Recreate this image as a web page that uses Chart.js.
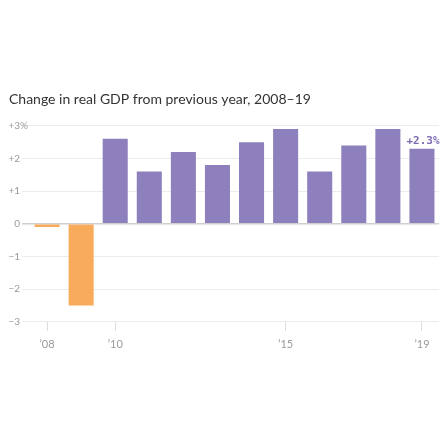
<!DOCTYPE html>
<html>
<head>
<meta charset="utf-8">
<script src="https://cdn.jsdelivr.net/npm/chart.js@4.4.1/dist/chart.umd.min.js"></script>
<style>
  html, body { margin: 0; padding: 0; background: #fff; }
  #wrap { width: 446px; height: 446px; }
</style>
</head>
<body>
<div id="wrap"><canvas id="gdp-chart" width="446" height="446"></canvas></div>
<script>
// Real GDP change, percent from previous year
const years = ["2008", "2009", "2010", "2011", "2012", "2013", "2014", "2015", "2016", "2017", "2018", "2019"];
const gdpChange = [-0.1, -2.5, 2.6, 1.6, 2.2, 1.8, 2.5, 2.9, 1.6, 2.4, 2.9, 2.3];

// Only some years get an axis label
const shownYears = { "2008": "’08", "2010": "’10", "2015": "’15", "2019": "’19" };
const yTickLabels = { "3": "+3", "2": "+2", "1": "+1", "0": "0", "-1": "−1", "-2": "−2", "-3": "−3" };

const PURPLE = "#8d80bd";
const ORANGE = "#f9ab5c";
const LABEL_PURPLE = "#7e6db3";
const TICK_GREY = "#9a9a9a";

// Draws the "+2.3%" callout above the last bar and the "%" after the top y label
const annotationsPlugin = {
  id: "annotations",
  afterDraw(chart) {
    const ctx = chart.ctx;
    const i = gdpChange.length - 1;
    const bar = chart.getDatasetMeta(0).data[i];
    const v = gdpChange[i];
    ctx.save();
    ctx.font = "bold 11px 'DejaVu Sans Mono', monospace";
    ctx.fillStyle = LABEL_PURPLE;
    ctx.textAlign = "center";
    ctx.textBaseline = "alphabetic";
    ctx.fillText((v > 0 ? "+" : "") + v.toFixed(1) + "%", bar.x + 1, bar.y - 5);

    const y = chart.scales.y;
    ctx.font = "10px Lato";
    ctx.fillStyle = TICK_GREY;
    ctx.textAlign = "left";
    ctx.textBaseline = "middle";
    ctx.fillText("%", y.right - 10, y.getPixelForValue(y.max));
    ctx.restore();
  },
};

new Chart(document.getElementById("gdp-chart"), {
  type: "bar",
  data: {
    labels: years,
    datasets: [
      {
        data: gdpChange,
        backgroundColor: gdpChange.map((v) => (v < 0 ? ORANGE : PURPLE)),
        borderWidth: 0,
        barPercentage: 0.735,
        categoryPercentage: 1,
      },
    ],
  },
  options: {
    responsive: false,
    animation: false,
    devicePixelRatio: 1,
    layout: {
      padding: { left: 9, right: 7, top: 0, bottom: 88 },
    },
    plugins: {
      legend: { display: false },
      tooltip: { enabled: false },
      title: {
        display: true,
        text: "Change in real GDP from previous year, 2008–19",
        align: "start",
        color: "#333333",
        font: { family: "Lato", size: 14, weight: "normal" },
        padding: { top: 91, bottom: 18 },
      },
    },
    scales: {
      x: {
        type: "category",
        offset: true,
        border: { display: false },
        grid: {
          offset: false,
          drawOnChartArea: false,
          drawTicks: true,
          tickLength: 9,
          color: (ctx) => (ctx.tick && shownYears[years[ctx.index]] ? "#dcdcdc" : "rgba(0,0,0,0)"),
        },
        ticks: {
          autoSkip: false,
          maxRotation: 0,
          padding: 7,
          color: TICK_GREY,
          font: { family: "Lato", size: 11 },
          callback: (value, index) => shownYears[years[index]] || "",
        },
      },
      y: {
        min: -3,
        max: 3,
        border: { display: false },
        afterFit: (scale) => {
          scale.width = 21;
        },
        grid: {
          drawTicks: true,
          tickLength: 8,
          color: (ctx) => {
            if (!ctx.tick) return "#ececec";
            if (ctx.tick.value === 0) return "#cfcfcf";
            return "#ececec";
          },
          lineWidth: (ctx) => (ctx.tick && ctx.tick.value === 0 ? 1.5 : 1),
        },
        ticks: {
          stepSize: 1,
          padding: 2,
          color: TICK_GREY,
          font: { family: "Lato", size: 10 },
          callback: (value) => yTickLabels[String(value)] ?? "",
        },
      },
    },
  },
  plugins: [annotationsPlugin],
});
</script>
</body>
</html>
